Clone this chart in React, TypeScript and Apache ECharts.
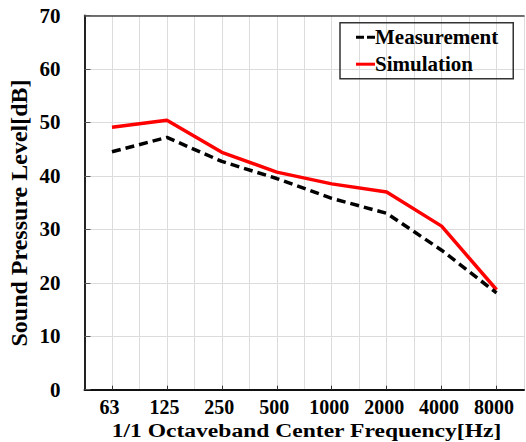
import React, { useEffect, useRef } from "react";
import * as echarts from "echarts";

const categories = ["63", "125", "250", "500", "1000", "2000", "4000", "8000"];
const measurement = [44.5, 47.2, 42.7, 39.5, 35.8, 33.0, 26.1, 18.1];
const simulation = [49.1, 50.4, 44.4, 40.7, 38.5, 37.0, 30.6, 18.7];
const yTicks = [0, 10, 20, 30, 40, 50, 60, 70];

const FONT = "'Liberation Serif', 'Times New Roman', serif";

export default function App() {
  const ref = useRef<HTMLDivElement>(null);
  useEffect(() => {
    if (!ref.current) return;
    const chart = echarts.init(ref.current, null, { renderer: "svg" });
    chart.setOption({
      animation: false,
      backgroundColor: "#ffffff",
      textStyle: { fontFamily: FONT },
      grid: {
        left: 84.5,
        right: 2,
        top: 15.5,
        bottom: 52.3,
        containLabel: false,
        outerBoundsMode: "none",
      },
      legend: {
        data: [
          { name: "Measurement", icon: "path://M0,0H8V3H0Z M11,0H19V3H11Z" },
          { name: "Simulation", icon: "path://M0,0H19V3H0Z" },
        ],
        orient: "vertical",
        left: 340,
        top: 22.7,
        padding: [4, 15, 4, 16],
        itemGap: 6,
        itemWidth: 19,
        itemHeight: 3,
        borderColor: "#333",
        borderWidth: 1.5,
        textStyle: {
          fontFamily: FONT,
          fontWeight: "bold",
          fontSize: 21,
          color: "#000",
          lineHeight: 20,
          padding: [0, 0, 0, -5],
        },
      },
      xAxis: [
        {
          type: "category",
          data: categories,
          boundaryGap: true,
          position: "bottom",
          axisLine: { show: true, onZero: false, lineStyle: { color: "#111", width: 2 } },
          axisTick: {
            show: true,
            inside: true,
            alignWithLabel: true,
            length: 4,
            lineStyle: { color: "#333", width: 1 },
          },
          axisLabel: {
            fontFamily: FONT,
            fontWeight: "bold",
            fontSize: 20,
            lineHeight: 19,
            color: "#000",
            margin: 8,
            padding: [0, 5, 0, 0],
          },
          splitLine: { show: false },
        },
        {
          type: "value",
          min: -0.5,
          max: 7.5,
          interval: 0.5,
          position: "top",
          axisLine: { show: true, onZero: false, lineStyle: { color: "#444", width: 1.5 } },
          axisTick: { show: false },
          axisLabel: { show: false },
          splitLine: { show: true, lineStyle: { color: "#dcdcdc", width: 1 } },
        },
      ],
      yAxis: {
        type: "value",
        min: 0,
        max: 70,
        interval: 10,
        axisLine: { show: true, onZero: false, lineStyle: { color: "#222", width: 2 } },
        axisTick: { show: true, inside: true, length: 6, lineStyle: { color: "#555", width: 1 } },
        axisLabel: {
          fontFamily: FONT,
          fontWeight: "bold",
          fontSize: 21,
          color: "#000",
          margin: 24,
          formatter: (v: number) => (yTicks.includes(v) ? String(v) : ""),
        },
        splitLine: { show: true, lineStyle: { color: "#dcdcdc", width: 1 } },
      },
      graphic: [
        {
          type: "text",
          x: 18.5,
          y: 213,
          rotation: Math.PI / 2,
          style: {
            text: "Sound Pressure Level[dB]",
            fontFamily: FONT,
            fontWeight: "bold",
            fontSize: 24,
            fill: "#000",
            textAlign: "center",
            textVerticalAlign: "middle",
          },
        },
        {
          type: "text",
          x: 306.5,
          y: 430.5,
          scaleX: 1.24,
          style: {
            text: "1/1 Octaveband Center Frequency[Hz]",
            fontFamily: FONT,
            fontWeight: "bold",
            fontSize: 19,
            fill: "#000",
            textAlign: "center",
            textVerticalAlign: "middle",
          },
        },
      ],
      series: [
        {
          name: "Simulation",
          type: "line",
          xAxisIndex: 0,
          data: simulation,
          symbol: "none",
          lineStyle: { color: "#ff0000", width: 3.5 },
          itemStyle: { color: "#ff0000" },
        },
        {
          name: "Measurement",
          type: "line",
          xAxisIndex: 0,
          data: measurement,
          symbol: "none",
          lineStyle: { color: "#000", width: 3.5, type: [9, 5] },
          itemStyle: { color: "#000" },
        },
      ],
    });
    return () => chart.dispose();
  }, []);
  return <div ref={ref} style={{ width: 526, height: 442, position: "absolute", left: 0, top: 0 }} />;
}
